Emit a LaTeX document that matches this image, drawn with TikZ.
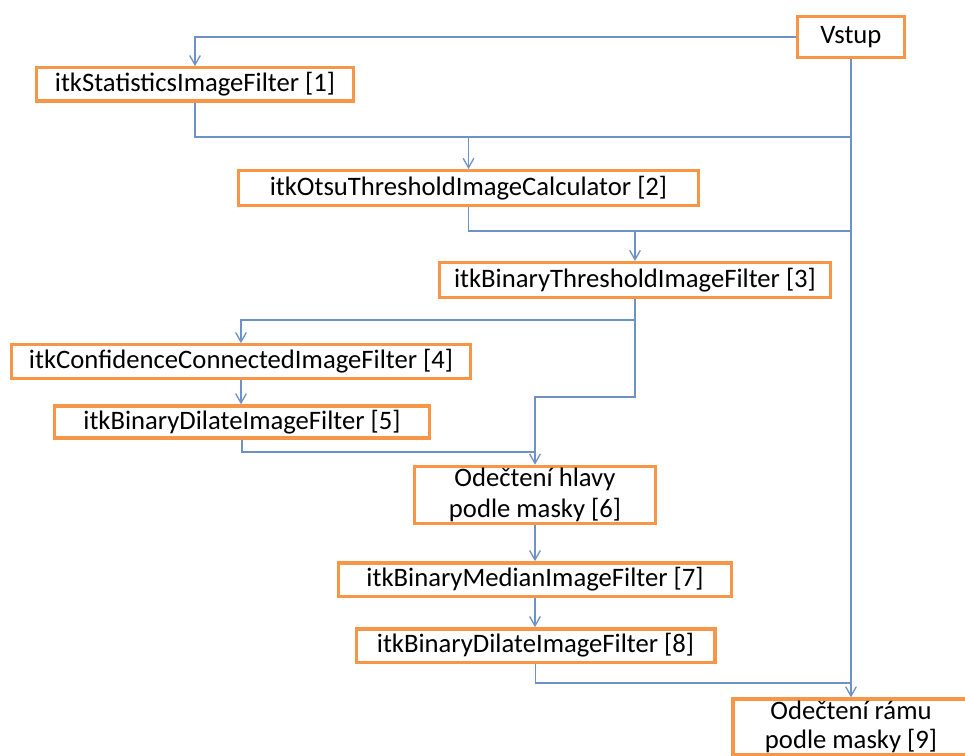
\documentclass[tikz,border=0pt]{standalone}
\usepackage{fontspec}
\setmainfont{Carlito}
\usepackage{tikz}
\usetikzlibrary{arrows.meta}
\definecolor{boxorange}{RGB}{247,150,70}
\definecolor{lineblue}{RGB}{110,146,200}

\begin{document}
\begin{tikzpicture}[x=0.75pt, y=-0.75pt,
		box/.style={draw=boxorange, line width=2.5pt, fill=white, inner sep=0pt, align=center, font=\fontsize{20}{23.5}\selectfont},
		link/.style={draw=lineblue, line width=1pt},
		flow/.style={link, -{Straight Barb[length=7pt,width=8pt]}}]
		\useasboundingbox (0,0) rectangle (965,756);
		\clip (0,0) rectangle (965,756);
		% filter chain
		\node [box, minimum width=80pt, minimum height=31pt] (vstup) at (851,37) {Vstup};
		\node [box, minimum width=238pt, minimum height=25pt] (s1) at (195,84.5) {itkStatisticsImageFilter [1]};
		\node [box, minimum width=345pt, minimum height=26pt] (s2) at (468.5,188) {itkOtsuThresholdImageCalculator [2]};
		\node [box, minimum width=293pt, minimum height=26pt] (s3) at (635,280) {itkBinaryThresholdImageFilter [3]};
		\node [box, minimum width=344pt, minimum height=25pt] (s4) at (241,361.5) {itkConfidenceConnectedImageFilter [4]};
		\node [box, minimum width=281pt, minimum height=24pt] (s5) at (242,422) {itkBinaryDilateImageFilter [5]};
		\node [box, minimum width=181pt, minimum height=43pt] (s6) at (535,495) {Odečtení hlavy\\podle masky [6]};
		\node [box, minimum width=295pt, minimum height=25pt] (s7) at (535,579.5) {itkBinaryMedianImageFilter [7]};
		\node [box, minimum width=269pt, minimum height=25pt] (s8) at (535.5,645.5) {itkBinaryDilateImageFilter [8]};
		\node [box, minimum width=177pt, minimum height=42pt, font=\fontsize{20}{22}\selectfont] (s9) at (851,727) {Odečtení rámu\\podle masky [9]};
		
		% junctions
		\coordinate (j1) at (s2.north |- 0,137);
		\coordinate (j2) at (s3.north |- 0,231);
		\coordinate (j3) at (s3.south |- 0,320);
		\coordinate (j4) at (s3.south |- 0,397);
		\coordinate (j5) at (s6.north |- 0,452);
		\coordinate (j6) at (vstup.south |- 0,683);
		
		\draw [flow] (vstup.west) -| (s1.north);
		\draw [flow] (vstup.south) -- (s9.north);
		\draw [flow] (s1.south) |- (j1) -- (s2.north);
		\draw [link] (vstup.south |- j1) -- (j1);
		\draw [flow] (s2.south) |- (j2) -- (s3.north);
		\draw [link] (vstup.south |- j2) -- (j2);
		\draw [flow] (s3.south) -- (j3) -| (s4.north);
		\draw [flow] (j3) -- (j4) -| (s6.north);
		\draw [flow] (s4.south) -- (s4.south |- s5.north);
		\draw [link] (s5.south) |- (j5);
		\draw [flow] (s6.south) -- (s7.north);
		\draw [flow] (s7.south) -- (s7.south |- s8.north);
		\draw [link] (s8.south) |- (j6);
	\end{tikzpicture}
\end{document}
